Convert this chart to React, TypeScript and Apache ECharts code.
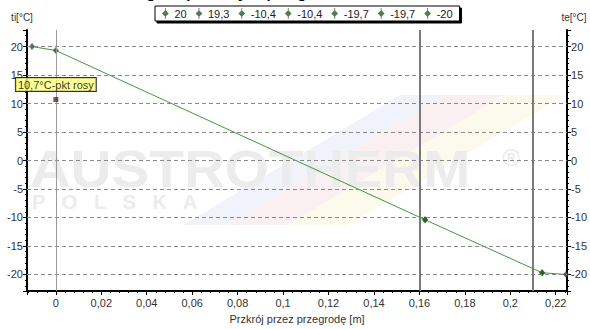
import React, { useEffect, useRef } from "react";
import * as echarts from "echarts";

const titleText = "Przebieg temperatury w przegrodzie";
const xAxisName = "Przkrój przez przegrodę [m]";
const leftAxisName = "ti[°C]";
const rightAxisName = "te[°C]";

const xPos = [-0.0105, 0, 0.1625, 0.1625, 0.214, 0.214, 0.2245];
const temps = [20, 19.3, -10.4, -10.4, -19.7, -19.7, -20];
const legendLabels = ["20", "19,3", "-10,4", "-10,4", "-19,7", "-19,7", "-20"];
const layerBounds = [0, 0.1625, 0.214];
const yGridValues = [-20, -15, -10, -5, 0, 5, 10, 15, 20];
const dewPoint = [0, 10.7];
const dewLabel = "10,7°C-pkt rosy";

const xMin = -0.0127;
const xMax = 0.225;
const yMin = -22.9;
const yMax = 22.9;

const FONT = "'Liberation Sans', Arial, sans-serif";
const markerColor = "#2b5a2b";
const lineColor = "#3c9a3c";

const legendIcon =
  "path://M3.5,0 L4.5,0 L4.5,3 L8,6.5 L4.5,10 L4.5,13 L3.5,13 L3.5,10 L0,6.5 L3.5,3 Z";

function isMultiple(v: number, step: number) {
  const r = v / step;
  return Math.abs(r - Math.round(r)) < 1e-6;
}

export default function App() {
  const ref = useRef<HTMLDivElement>(null);
  useEffect(() => {
    if (!ref.current) return;
    const chart = echarts.init(ref.current, null, { renderer: "svg" });
    const seriesNames = temps.map((_, i) => "T" + i);

    const yAxisCommon = {
      type: "value",
      min: yMin,
      max: yMax,
      splitNumber: 9,
      axisLine: { show: true, onZero: false, lineStyle: { color: "#000", width: 2 } },
      axisTick: { show: true, length: 4, lineStyle: { color: "#000" } },
      minorTick: { show: true, splitNumber: 5, length: 2, lineStyle: { color: "#000" } },
      splitLine: { show: false },
      axisLabel: {
        fontFamily: FONT,
        fontSize: 11,
        color: "#333",
        margin: 4,
        formatter: (v: number) => (isMultiple(v, 5) ? String(Math.round(v)) : ""),
      },
    };

    const option: any = {
      animation: false,
      backgroundColor: "#fff",
      textStyle: { fontFamily: FONT },
      grid: { left: 27, right: 22, top: 30, bottom: 32, containLabel: false },
      legend: {
        data: seriesNames,
        left: 155,
        top: 6,
        padding: [2, 7],
        itemGap: 9,
        itemWidth: 8,
        itemHeight: 11,
        icon: legendIcon,
        backgroundColor: "#fff",
        borderColor: "#000",
        borderWidth: 1,
        shadowColor: "#000",
        shadowBlur: 0,
        shadowOffsetX: 2,
        shadowOffsetY: 2,
        selectedMode: false,
        formatter: (name: string) => legendLabels[seriesNames.indexOf(name)],
        textStyle: { fontFamily: FONT, fontSize: 11, color: "#222" },
      },
      xAxis: {
        type: "value",
        min: xMin,
        max: xMax,
        splitNumber: 12,
        name: xAxisName,
        nameLocation: "middle",
        nameGap: 22,
        nameTextStyle: { fontFamily: FONT, fontSize: 11, color: "#333" },
        axisLine: { show: true, onZero: false, lineStyle: { color: "#000", width: 2 } },
        axisTick: { show: true, length: 4, lineStyle: { color: "#000" } },
        minorTick: { show: true, splitNumber: 5, length: 2, lineStyle: { color: "#000" } },
        splitLine: { show: false },
        axisLabel: {
          fontFamily: FONT,
          fontSize: 11,
          color: "#333",
          margin: 6,
          formatter: (v: number) =>
            isMultiple(v, 0.02) ? String(Number(v.toFixed(2))).replace(".", ",") : "",
        },
      },
      yAxis: [
        { ...yAxisCommon, position: "left" },
        { ...yAxisCommon, position: "right" },
      ],
      graphic: [
        {
          type: "polygon",
          z: -10,
          silent: true,
          shape: { points: [[183, 225], [228, 225], [445, 95], [400, 95]] },
          style: { fill: "#f0f4fa" },
        },
        {
          type: "polygon",
          z: -10,
          silent: true,
          shape: { points: [[228, 225], [288, 225], [505, 95], [445, 95]] },
          style: { fill: "#fbf0f1" },
        },
        {
          type: "polygon",
          z: -10,
          silent: true,
          shape: { points: [[288, 225], [348, 225], [565, 95], [505, 95]] },
          style: { fill: "#fcfaec" },
        },
        {
          type: "text",
          z: -9,
          silent: true,
          x: 250,
          y: 169,
          scaleX: 1.09,
          style: {
            text: "AUSTROTHERM",
            fontFamily: FONT,
            fontWeight: "bold",
            fontSize: 52,
            fill: "#ececec",
            align: "center",
            verticalAlign: "middle",
          },
        },
        {
          type: "text",
          z: -9,
          silent: true,
          x: 32,
          y: 202,
          style: {
            text: "P   O   L   S   K   A",
            fontFamily: FONT,
            fontWeight: "bold",
            fontSize: 20,
            fill: "#ececec",
            align: "left",
            verticalAlign: "middle",
          },
        },
        {
          type: "text",
          z: -9,
          silent: true,
          x: 511,
          y: 157,
          style: {
            text: "®",
            fontFamily: FONT,
            fontSize: 24,
            fill: "#e9e9e9",
            align: "center",
            verticalAlign: "middle",
          },
        },
        {
          type: "text",
          silent: true,
          x: 93,
          y: -8,
          style: {
            text: titleText,
            fontFamily: FONT,
            fontWeight: "bold",
            fontSize: 15,
            fill: "#000",
            align: "left",
            verticalAlign: "middle",
          },
        },
        {
          type: "text",
          silent: true,
          x: 22,
          y: 17,
          style: {
            text: leftAxisName,
            fontFamily: FONT,
            fontSize: 10,
            fill: "#333",
            align: "center",
            verticalAlign: "middle",
          },
        },
        {
          type: "text",
          silent: true,
          x: 574,
          y: 17,
          style: {
            text: rightAxisName,
            fontFamily: FONT,
            fontSize: 10,
            fill: "#333",
            align: "center",
            verticalAlign: "middle",
          },
        },
      ],
      series: [
        {
          type: "line",
          name: "profile",
          data: xPos.map((x, i) => [x, temps[i]]),
          showSymbol: false,
          symbol: "none",
          lineStyle: { color: lineColor, width: 1 },
          itemStyle: { color: lineColor },
          silent: true,
          z: 3,
          markLine: {
            silent: true,
            symbol: ["none", "none"],
            label: { show: false },
            data: [
              ...yGridValues.map((v) => ({
                yAxis: v,
                lineStyle: { color: "#8a8a8a", width: 1, type: [4, 3] },
              })),
              ...layerBounds.map((v, i) => ({
                xAxis: v,
                lineStyle: { color: i === 0 ? "#9a9a9a" : "#7a7a7a", width: i === 0 ? 1 : 2, type: "solid" },
              })),
            ],
          },
        },
        ...seriesNames.map((n, i) => ({
          type: "scatter",
          name: n,
          data: [[xPos[i], temps[i]]],
          symbol: "diamond",
          symbolSize: [6, 7],
          itemStyle: { color: markerColor },
          z: 4,
          silent: true,
        })),
        {
          type: "scatter",
          name: "dew",
          data: [dewPoint],
          symbol: "rect",
          symbolSize: 5,
          itemStyle: { color: "#5a2a24" },
          z: 5,
          silent: true,
          label: {
            show: true,
            position: "top",
            distance: 6,
            formatter: () => dewLabel,
            fontFamily: FONT,
            fontSize: 11,
            color: "#000",
            backgroundColor: "#ffff80",
            borderColor: "#000",
            borderWidth: 1,
            padding: [1, 2, 0, 2],
            lineHeight: 12,
          },
        },
      ],
    };
    chart.setOption(option);
    return () => chart.dispose();
  }, []);
  return (
    <div
      ref={ref}
      style={{ position: "fixed", left: 0, top: 0, width: 590, height: 329, background: "#fff" }}
    />
  );
}
